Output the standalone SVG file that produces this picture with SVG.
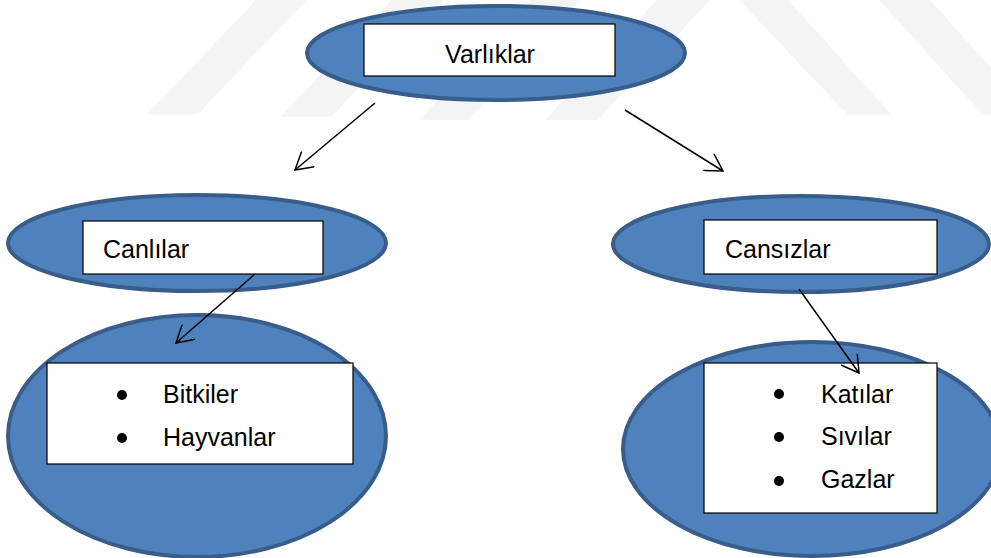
<svg xmlns="http://www.w3.org/2000/svg" width="991" height="558" viewBox="0 0 991 558">
  <style>
    .wm { fill: #f4f4f4; }
    .ell { fill: #4f81bd; stroke: #385d8a; stroke-width: 4; }
    .box { fill: #ffffff; stroke: #000000; stroke-width: 1.2; }
    .lbl { font-family: "Liberation Sans", Arial, sans-serif; font-size: 25px; fill: #000000; }
    .con { stroke: #000000; stroke-width: 1.5; fill: none; marker-end: url(#open); }
  </style>
  <defs>
    <marker id="open" viewBox="0 0 20 20" refX="19" refY="10" markerWidth="20" markerHeight="20" markerUnits="userSpaceOnUse" orient="auto">
      <path d="M2,0 L19,10 L2,20" fill="none" stroke="#000" stroke-width="1.5"/>
    </marker>
  </defs>
  <rect width="991" height="558" fill="#ffffff"/>
  <g id="watermark">
    <polygon class="wm" points="147,114 198,114 307,0 256,0"/>
    <polygon class="wm" points="280,117 331,117 443,0 392,0"/>
    <polygon class="wm" points="419,120 468,120 581,0 532,0"/>
    <polygon class="wm" points="545,120 598,120 710,0 657,0"/>
    <polygon class="wm" points="739,0 788,0 891,114 847,114"/>
    <polygon class="wm" points="879,0 930,0 1033,114 982,114"/>
  </g>
  <g id="varliklar">
    <ellipse class="ell" cx="496" cy="53" rx="189" ry="47"/>
    <rect class="box" x="364" y="24" width="251" height="52"/>
    <text class="lbl" x="490" y="63" text-anchor="middle">Varlıklar</text>
  </g>
  <g id="canlilar">
    <ellipse class="ell" cx="197" cy="243" rx="189" ry="48"/>
    <rect class="box" x="83" y="221" width="240" height="53"/>
    <text class="lbl" x="103" y="258">Canlılar</text>
  </g>
  <g id="cansizlar">
    <ellipse class="ell" cx="801" cy="244" rx="188" ry="48"/>
    <rect class="box" x="704" y="220" width="233" height="54"/>
    <text class="lbl" x="725" y="258">Cansızlar</text>
  </g>
  <g id="canlilar-list">
    <ellipse class="ell" cx="197" cy="436" rx="189" ry="121"/>
    <rect class="box" x="47" y="363" width="306" height="101"/>
    <circle cx="122" cy="395" r="5"/>
    <circle cx="122" cy="438" r="5"/>
    <text class="lbl" x="163" y="403">Bitkiler</text>
    <text class="lbl" x="163" y="446">Hayvanlar</text>
  </g>
  <g id="cansizlar-list">
    <ellipse class="ell" cx="812" cy="449" rx="189" ry="107"/>
    <rect class="box" x="704" y="363" width="233" height="150"/>
    <circle cx="779" cy="394" r="5"/>
    <circle cx="779" cy="437" r="5"/>
    <circle cx="779" cy="481" r="5"/>
    <text class="lbl" x="821" y="403">Katılar</text>
    <text class="lbl" x="821" y="445">Sıvılar</text>
    <text class="lbl" x="821" y="488">Gazlar</text>
  </g>
  <g id="connectors">
    <line class="con" x1="375" y1="103" x2="295" y2="170"/>
    <line class="con" x1="625" y1="110" x2="723" y2="171"/>
    <line class="con" x1="255" y1="274" x2="176" y2="343"/>
    <line class="con" x1="799" y1="289" x2="859" y2="373"/>
  </g>
</svg>
